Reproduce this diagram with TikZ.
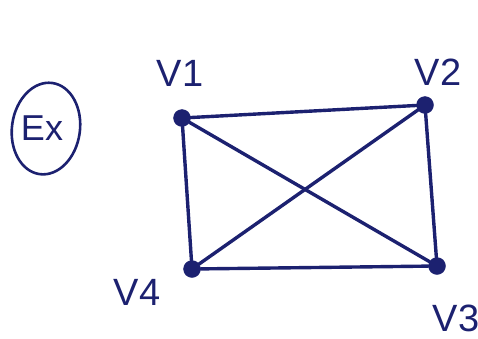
\documentclass[tikz,border=0pt]{standalone}
\usepackage{fontspec}
\setmainfont{Liberation Sans}
\usepackage{xcolor}
\usetikzlibrary{positioning}
\definecolor{cink}{HTML}{1C2170}
\tikzset{
  vtx/.style={circle, fill=cink, draw=cink, inner sep=0pt, minimum size=17pt},
  vlab/.style={text=cink, font=\fontsize{38}{38}\selectfont, inner sep=0pt},
  edg/.style={draw=cink, line width=3.4pt, line cap=round},
  tag/.style={text=cink, font=\fontsize{36}{36}\selectfont, inner sep=0pt},
  ring/.style={draw=cink, line width=2.6pt},
}
\begin{document}
\begin{tikzpicture}[x=1pt, y=-1pt]
  \useasboundingbox (0,0) rectangle (478,338);
  % vertices
  \node[vtx] (v1) at (182,118) {};
  \node[vtx] (v2) at (425,105) {};
  \node[vtx] (v3) at (437,266) {};
  \node[vtx] (v4) at (192,269) {};
  % labels
  \node[vlab] (l1) at (180,73) {V1};
  \node[vlab] (l2) at (438,72) {V2};
  \node[vlab] (l3) at (456,318) {V3};
  \node[vlab] (l4) at (137,292) {V4};
  \node[tag] (ex) at (42,128) {Ex};
  \draw[ring, rotate around={-8:(ex.center)}] ([xshift=4pt]ex.center) ellipse (34pt and 46pt);

  \draw[edg] (v1) -- (v2);
  \draw[edg] (v2) -- (v3);
  \draw[edg] (v3) -- (v4);
  \draw[edg] (v4) -- (v1);
  \draw[edg] (v1) -- (v3);
  \draw[edg] (v2) -- (v4);
\end{tikzpicture}
\end{document}
